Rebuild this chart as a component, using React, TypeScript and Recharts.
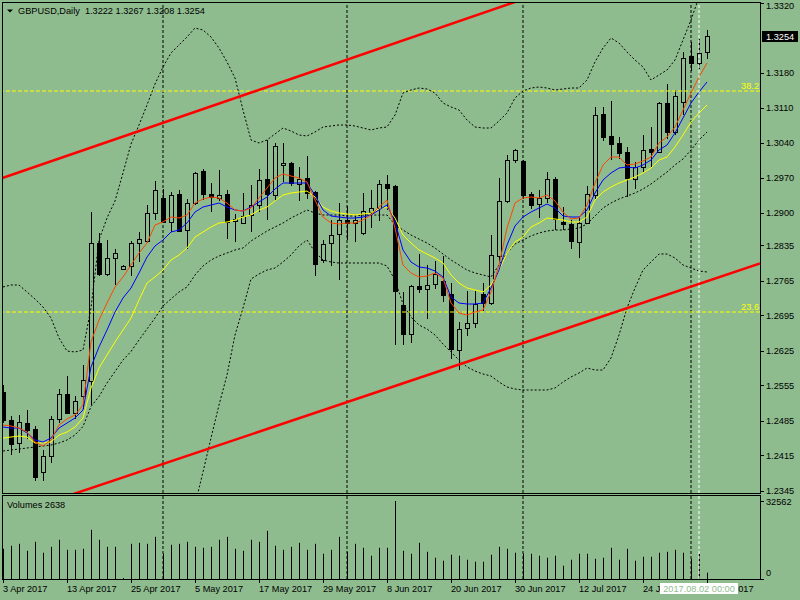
import React from 'react';
import { Bar, ComposedChart, Line, ReferenceLine, XAxis, YAxis } from 'recharts';

const BG = '#8FBC8F';
const FONT = '"Liberation Sans", Arial, sans-serif';
const FS = 9.2;

// GBPUSD daily, 3 Apr 2017 .. 3 Aug 2017 (one entry per bar)
const opens = [
  1.2543, 1.2486, 1.2439, 1.2481, 1.2469, 1.2383, 1.2413, 1.2489, 1.2537, 1.2501,
  1.2533, 1.2564, 1.2839, 1.2777, 1.2811, 1.2788, 1.2794, 1.2840, 1.2845, 1.2901,
  1.2931, 1.2883, 1.2938, 1.2866, 1.2919, 1.2984, 1.2938, 1.2931, 1.2938, 1.2884,
  1.2881, 1.2895, 1.2916, 1.2969, 1.2936, 1.2995, 1.2999, 1.2958, 1.2971, 1.2943,
  1.2806, 1.2839, 1.2858, 1.2887, 1.2879, 1.2859, 1.2903, 1.2911, 1.2958, 1.2954,
  1.2716, 1.2657, 1.2754, 1.2749, 1.2758, 1.2764, 1.2738, 1.2627, 1.2671, 1.2679,
  1.2738, 1.2721, 1.2814, 1.2924, 1.3006, 1.3004, 1.2938, 1.2917, 1.2931, 1.2968,
  1.2883, 1.2878, 1.2843, 1.2881, 1.2935, 1.3098, 1.3054, 1.3041, 1.3023, 1.2969,
  1.2993, 1.3028, 1.3023, 1.3119, 1.3063, 1.3123, 1.3214, 1.3201, 1.3222,
];
const highs = [
  1.2556, 1.2493, 1.2496, 1.2506, 1.2473, 1.2427, 1.2493, 1.2548, 1.2574, 1.2533,
  1.2596, 1.2903, 1.2859, 1.2846, 1.2829, 1.2796, 1.2845, 1.2863, 1.2916, 1.2964,
  1.2949, 1.2943, 1.2946, 1.2929, 1.2983, 1.2989, 1.2959, 1.2986, 1.2946, 1.2898,
  1.2941, 1.2956, 1.2988, 1.3046, 1.3039, 1.3041, 1.3003, 1.2993, 1.3014, 1.2944,
  1.2847, 1.2887, 1.2919, 1.2914, 1.2894, 1.2939, 1.2947, 1.2966, 1.2976, 1.2956,
  1.2743, 1.2756, 1.2817, 1.2796, 1.2805, 1.2814, 1.2759, 1.2683, 1.2745, 1.2745,
  1.2759, 1.2856, 1.2971, 1.3016, 1.3029, 1.3006, 1.2943, 1.2947, 1.2983, 1.2973,
  1.2913, 1.2887, 1.2893, 1.2954, 1.3113, 1.3113, 1.3124, 1.3053, 1.3033, 1.3003,
  1.3056, 1.3073, 1.3123, 1.3158, 1.3146, 1.3223, 1.3243, 1.3249, 1.3267,
];
const lows = [
  1.2480, 1.2416, 1.2421, 1.2449, 1.2364, 1.2364, 1.2401, 1.2479, 1.2499, 1.2489,
  1.2509, 1.2516, 1.2774, 1.2774, 1.2756, 1.2787, 1.2773, 1.2803, 1.2839, 1.2886,
  1.2879, 1.2863, 1.2863, 1.2829, 1.2916, 1.2926, 1.2903, 1.2925, 1.2849, 1.2843,
  1.2879, 1.2863, 1.2903, 1.2887, 1.2925, 1.2963, 1.2954, 1.2925, 1.2929, 1.2773,
  1.2799, 1.2794, 1.2767, 1.2846, 1.2843, 1.2856, 1.2871, 1.2885, 1.2907, 1.2636,
  1.2636, 1.2641, 1.2741, 1.2689, 1.2749, 1.2723, 1.2609, 1.2586, 1.2653, 1.2671,
  1.2705, 1.2715, 1.2803, 1.2919, 1.2999, 1.2929, 1.2909, 1.2891, 1.2919, 1.2866,
  1.2866, 1.2829, 1.2811, 1.2879, 1.2929, 1.3045, 1.3006, 1.3009, 1.2933, 1.2949,
  1.2983, 1.2993, 1.3019, 1.3049, 1.3056, 1.3096, 1.3185, 1.3189, 1.3208,
];
const closes = [
  1.2486, 1.2437, 1.2483, 1.2466, 1.2371, 1.2414, 1.2489, 1.2537, 1.2501, 1.2524,
  1.2566, 1.2839, 1.2777, 1.2811, 1.2821, 1.2794, 1.2841, 1.2848, 1.2901, 1.2947,
  1.2883, 1.2936, 1.2865, 1.2921, 1.2981, 1.2938, 1.2933, 1.2936, 1.2883, 1.2888,
  1.2894, 1.2916, 1.2967, 1.2937, 1.3034, 1.2999, 1.2959, 1.2969, 1.2939, 1.2797,
  1.2837, 1.2855, 1.2887, 1.2881, 1.2887, 1.2904, 1.2911, 1.2957, 1.2951, 1.2745,
  1.2658, 1.2754, 1.2749, 1.2756, 1.2779, 1.2735, 1.2629, 1.2669, 1.2681, 1.2717,
  1.2721, 1.2815, 1.2924, 1.3006, 1.3026, 1.2936, 1.2916, 1.2931, 1.2969, 1.2889,
  1.2878, 1.2845, 1.2881, 1.2937, 1.3096, 1.3053, 1.3037, 1.3019, 1.2971, 1.2993,
  1.3026, 1.3023, 1.3119, 1.3063, 1.3134, 1.3211, 1.3200, 1.3221, 1.3254,
];
const volumes = [
  12620, 13870, 14700, 11790, 15530, 10960, 13450, 16370, 12200, 12200,
  12620, 20530, 16370, 13450, 13450, 420, 14700, 15120, 14700, 17610,
  10540, 14290, 14700, 15530, 13450, 13040, 13450, 16370, 17610, 12620,
  11790, 16370, 15530, 20110, 13870, 12200, 13450, 15120, 12200, 14700,
  10540, 12200, 17610, 11370, 14700, 13040, 9710, 13040, 13040, 32562,
  11790, 10540, 15120, 11370, 8880, 7630, 10130, 9710, 8040, 7210,
  7210, 10130, 13450, 12620, 10960, 10540, 10540, 9710, 8880, 9710,
  5550, 8040, 10540, 10540, 8460, 8880, 13040, 8040, 12620, 7630,
  9290, 9290, 10960, 11370, 12200, 10960, 8460, 10500, 2638,
];

// moving averages (red / blue / yellow)
const maFast = [
  1.2476, 1.2474, 1.2470, 1.2462, 1.2442, 1.2434, 1.2446, 1.2476, 1.2488, 1.2496,
  1.2516, 1.2642, 1.2686, 1.2720, 1.2752, 1.2772, 1.2796, 1.2820, 1.2840, 1.2876,
  1.2882, 1.2892, 1.2890, 1.2896, 1.2920, 1.2928, 1.2932, 1.2930, 1.2920, 1.2906,
  1.2904, 1.2910, 1.2930, 1.2950, 1.2970, 1.2978, 1.2974, 1.2970, 1.2962, 1.2926,
  1.2892, 1.2880, 1.2878, 1.2880, 1.2880, 1.2886, 1.2896, 1.2912, 1.2926, 1.2870,
  1.2796, 1.2780, 1.2772, 1.2774, 1.2780, 1.2770, 1.2720, 1.2700, 1.2696, 1.2702,
  1.2706, 1.2742, 1.2796, 1.2870, 1.2920, 1.2930, 1.2932, 1.2930, 1.2936, 1.2924,
  1.2902, 1.2888, 1.2890, 1.2916, 1.2960, 1.2996, 1.3012, 1.3012, 1.2996, 1.2998,
  1.3004, 1.3012, 1.3040, 1.3052, 1.3072, 1.3106, 1.3140, 1.3172, 1.3200,
];
const maMid = [
  1.2472, 1.2470, 1.2470, 1.2460, 1.2446, 1.2442, 1.2450, 1.2470, 1.2480, 1.2490,
  1.2506, 1.2592, 1.2632, 1.2666, 1.2702, 1.2730, 1.2750, 1.2780, 1.2812, 1.2834,
  1.2846, 1.2862, 1.2866, 1.2880, 1.2902, 1.2912, 1.2916, 1.2920, 1.2912, 1.2906,
  1.2904, 1.2912, 1.2922, 1.2932, 1.2948, 1.2960, 1.2960, 1.2960, 1.2960, 1.2936,
  1.2906, 1.2894, 1.2892, 1.2890, 1.2890, 1.2892, 1.2896, 1.2906, 1.2916, 1.2882,
  1.2826, 1.2802, 1.2792, 1.2790, 1.2784, 1.2772, 1.2732, 1.2720, 1.2718, 1.2718,
  1.2720, 1.2750, 1.2786, 1.2836, 1.2874, 1.2892, 1.2902, 1.2910, 1.2918, 1.2910,
  1.2894, 1.2892, 1.2892, 1.2906, 1.2940, 1.2966, 1.2980, 1.2990, 1.2992, 1.2990,
  1.2996, 1.3006, 1.3026, 1.3036, 1.3060, 1.3090, 1.3120, 1.3142, 1.3162,
];
const maSlow = [
  1.2450, 1.2452, 1.2454, 1.2452, 1.2440, 1.2440, 1.2442, 1.2456, 1.2462, 1.2472,
  1.2490, 1.2550, 1.2590, 1.2616, 1.2642, 1.2666, 1.2690, 1.2726, 1.2760, 1.2772,
  1.2786, 1.2806, 1.2816, 1.2830, 1.2852, 1.2862, 1.2872, 1.2880, 1.2882, 1.2886,
  1.2892, 1.2896, 1.2906, 1.2912, 1.2924, 1.2936, 1.2940, 1.2942, 1.2944, 1.2932,
  1.2912, 1.2904, 1.2900, 1.2898, 1.2896, 1.2898, 1.2900, 1.2908, 1.2912, 1.2890,
  1.2856, 1.2840, 1.2826, 1.2818, 1.2810, 1.2800, 1.2776, 1.2760, 1.2750, 1.2746,
  1.2742, 1.2756, 1.2786, 1.2820, 1.2842, 1.2852, 1.2872, 1.2880, 1.2890, 1.2888,
  1.2886, 1.2882, 1.2882, 1.2892, 1.2926, 1.2942, 1.2952, 1.2960, 1.2966, 1.2972,
  1.2980, 1.2990, 1.3006, 1.3012, 1.3032, 1.3056, 1.3082, 1.3100, 1.3116,
];

// dotted envelope lines
const bandUpper = [
  1.2752, 1.2756, 1.2756, 1.2742, 1.2728, 1.2712, 1.2690, 1.2650, 1.2624, 1.2622,
  1.2626, 1.2710, 1.2846, 1.2890, 1.2924, 1.2980, 1.3038, 1.3076, 1.3116, 1.3158,
  1.3192, 1.3220, 1.3236, 1.3252, 1.3270, 1.3266, 1.3252, 1.3230, 1.3202, 1.3170,
  1.3106, 1.3046, 1.3040, 1.3046, 1.3058, 1.3070, 1.3064, 1.3056, 1.3054, 1.3062,
  1.3072, 1.3074, 1.3076, 1.3076, 1.3074, 1.3070, 1.3066, 1.3070, 1.3072, 1.3096,
  1.3140, 1.3146, 1.3150, 1.3148, 1.3140, 1.3120, 1.3112, 1.3106, 1.3086, 1.3072,
  1.3070, 1.3070, 1.3084, 1.3100, 1.3130, 1.3144, 1.3150, 1.3152, 1.3150, 1.3146,
  1.3148, 1.3150, 1.3150, 1.3166, 1.3202, 1.3230, 1.3250, 1.3240, 1.3222, 1.3206,
  1.3192, 1.3166, 1.3176, 1.3186, 1.3206, 1.3246, 1.3286, 1.3332, 1.3366,
];
const bandMiddle = [
  1.2424, 1.2426, 1.2428, 1.2430, 1.2432, 1.2434, 1.2436, 1.2440, 1.2446, 1.2456,
  1.2473, 1.2513, 1.2533, 1.2560, 1.2583, 1.2606, 1.2623, 1.2646, 1.2668, 1.2690,
  1.2714, 1.2728, 1.2742, 1.2752, 1.2776, 1.2794, 1.2806, 1.2814, 1.2820, 1.2826,
  1.2830, 1.2844, 1.2854, 1.2864, 1.2872, 1.2880, 1.2890, 1.2898, 1.2906, 1.2900,
  1.2896, 1.2896, 1.2896, 1.2894, 1.2894, 1.2896, 1.2896, 1.2896, 1.2896, 1.2876,
  1.2866, 1.2856, 1.2848, 1.2840, 1.2830, 1.2818, 1.2806, 1.2796, 1.2786, 1.2780,
  1.2776, 1.2772, 1.2796, 1.2820, 1.2838, 1.2846, 1.2854, 1.2860, 1.2864, 1.2866,
  1.2866, 1.2868, 1.2870, 1.2878, 1.2894, 1.2910, 1.2920, 1.2928, 1.2934, 1.2940,
  1.2948, 1.2958, 1.2970, 1.2982, 1.2996, 1.3008, 1.3026, 1.3046, 1.3062,
];
const bandLower = [
  null, null, null, null, null, null, null, null, null, null,
  null, null, null, null, null, null, null, null, null, null,
  null, null, 1.2180, 1.2248, 1.2316, 1.2382, 1.2450, 1.2516, 1.2576, 1.2656,
  1.2710, 1.2768, 1.2778, 1.2786, 1.2790, 1.2802, 1.2816, 1.2834, 1.2846, 1.2822,
  1.2806, 1.2802, 1.2800, 1.2800, 1.2800, 1.2800, 1.2800, 1.2800, 1.2794, 1.2766,
  1.2718, 1.2692, 1.2676, 1.2668, 1.2656, 1.2638, 1.2622, 1.2606, 1.2592, 1.2584,
  1.2578, 1.2574, 1.2562, 1.2552, 1.2548, 1.2546, 1.2546, 1.2546, 1.2546, 1.2550,
  1.2562, 1.2572, 1.2580, 1.2590, 1.2586, 1.2586, 1.2610, 1.2656, 1.2710, 1.2750,
  1.2786, 1.2802, 1.2818, 1.2818, 1.2810, 1.2796, 1.2790, 1.2784, 1.2782,
];

const priceTicks = [
  1.332, 1.318, 1.311, 1.304, 1.297, 1.29, 1.2835, 1.2765, 1.2695, 1.2625, 1.2555, 1.2485,
  1.2415, 1.2345,
];
const volumeTicks = [0, 32562];
const dateTicks = [0, 8, 16, 24, 32, 40, 48, 56, 64, 72, 80, 88];
const dateLabels = [
  '3 Apr 2017', '13 Apr 2017', '25 Apr 2017', '5 May 2017', '17 May 2017', '29 May 2017',
  '8 Jun 2017', '20 Jun 2017', '30 Jun 2017', '12 Jul 2017', '24 Jul 2017', '3 Aug 2017',
];
const monthStarts = [20, 43, 65, 86];
const markerBar = 87;
const markerLabel = '2017.08.02 00:00';
const fibLevels = [
  { name: '38.2', value: 1.3144 },
  { name: '23.6', value: 1.2702 },
];
const channelTop = [
  { x: -1, y: 1.2965 },
  { x: 70, y: 1.3355 },
];
const channelBottom = [
  { x: -0.125, y: 1.229 },
  { x: 94.625, y: 1.2799 },
];

const X_DOMAIN = [-0.125, 94.625];
const PRICE_DOMAIN = [1.234, 1.332];
const VOLUME_DOMAIN = [0, 34650];

const rows = opens.map((o, i) => ({
  i,
  o,
  h: highs[i],
  l: lows[i],
  c: closes[i],
  hl: [lows[i], highs[i]],
  vol: volumes[i],
  fast: maFast[i],
  mid: maMid[i],
  slow: maSlow[i],
  bu: bandUpper[i],
  bm: bandMiddle[i],
  bl: bandLower[i],
}));

const last = rows.length - 1;

function Candle(props: any) {
  const { x, y, width, height, payload } = props;
  if (x == null || y == null || !payload) return null;
  const top = Math.min(y, y + height);
  const bot = Math.max(y, y + height);
  const span = payload.h - payload.l;
  const k = span > 0 ? (bot - top) / span : 0;
  const py = (v: number) => top + (payload.h - v) * k;
  const cx = Math.round(x + width / 2);
  const bTop = Math.round(py(Math.max(payload.o, payload.c)));
  const bBot = Math.max(bTop + 1, Math.round(py(Math.min(payload.o, payload.c))));
  const bull = payload.c >= payload.o;
  return (
    <g>
      <line x1={cx + 0.5} x2={cx + 0.5} y1={Math.round(top)} y2={Math.round(bot)} stroke="#000" />
      <rect
        x={cx - 1.5}
        y={bTop + 0.5}
        width={4}
        height={bBot - bTop}
        fill={bull ? BG : '#000'}
        stroke="#000"
      />
    </g>
  );
}

function VolumeStick(props: any) {
  const { x, y, width, height } = props;
  if (x == null || !height) return null;
  return <rect x={Math.round(x + width / 2)} y={y} width={1} height={height} fill="#000" />;
}

function PriceTick(props: any) {
  const { y, payload } = props;
  // the topmost label sits against the frame, MT4 nudges it down a little
  const nudge = payload.value >= PRICE_DOMAIN[1] ? 2.5 : 0;
  return (
    <g>
      <line x1={760} x2={764} y1={Math.round(y) + 0.5} y2={Math.round(y) + 0.5} stroke="#000" />
      <text x={766} y={y + 3.3 + nudge} fontSize={FS} fontFamily={FONT} fill="#000">
        {payload.value.toFixed(4)}
      </text>
    </g>
  );
}

function VolumeTick(props: any) {
  const { y, payload } = props;
  const shift = payload.value === 0 ? -6.5 : 1;
  return (
    <g>
      <line x1={760} x2={764} y1={Math.round(y) + 0.5} y2={Math.round(y) + 0.5} stroke="#000" />
      <text x={766} y={y + 3.3 + shift} fontSize={FS} fontFamily={FONT} fill="#000">
        {payload.value}
      </text>
    </g>
  );
}

function DateTick(props: any) {
  const { x, payload } = props;
  const idx = dateTicks.indexOf(payload.value);
  const px = Math.round(x) + 0.5;
  return (
    <g>
      <line x1={px} x2={px} y1={579} y2={583} stroke="#000" />
      <text x={x} y={591.5} fontSize={FS} fontFamily={FONT} fill="#000">
        {dateLabels[idx]}
      </text>
    </g>
  );
}

function FibLabel(props: any) {
  const { viewBox, text } = props;
  if (!viewBox) return null;
  return (
    <text
      x={viewBox.x + viewBox.width - 1}
      y={viewBox.y - 2}
      textAnchor="end"
      fontSize={FS}
      fontFamily={FONT}
      fill="#FFFF00"
    >
      {text}
    </text>
  );
}

function PriceTag(props: any) {
  const { viewBox, text } = props;
  if (!viewBox) return null;
  const x0 = viewBox.x + viewBox.width + 2;
  const yc = Math.round(viewBox.y);
  return (
    <g>
      <rect x={x0} y={yc - 5} width={36} height={11} fill="#000" />
      <text x={x0 + 4} y={yc + 3.5} fontSize={FS} fontFamily={FONT} fill="#fff">
        {text}
      </text>
    </g>
  );
}

function MarkerTag(props: any) {
  const { viewBox, text } = props;
  if (!viewBox) return null;
  const xc = Math.round(viewBox.x);
  const yb = viewBox.y + viewBox.height;
  return (
    <g>
      <rect x={xc - 39} y={yb + 4} width={78} height={11} fill="#fff" />
      <text
        x={xc}
        y={yb + 12.5}
        textAnchor="middle"
        fontSize={FS}
        fontFamily={FONT}
        fill={BG}
      >
        {text}
      </text>
    </g>
  );
}

export default function App() {
  const header = `GBPUSD,Daily  ${opens[last].toFixed(4)} ${highs[last].toFixed(4)} ${lows[last].toFixed(
    4,
  )} ${closes[last].toFixed(4)}`;

  return (
    <div
      style={{
        position: 'absolute',
        left: 0,
        top: 0,
        width: 800,
        height: 600,
        background: BG,
        overflow: 'hidden',
      }}
    >
      {/* volume window + date axis */}
      <div style={{ position: 'absolute', left: 0, top: 0 }}>
        <ComposedChart
          width={800}
          height={600}
          data={rows}
          margin={{ top: 496, right: 0, bottom: 0, left: 2 }}
        >
          <XAxis
            dataKey="i"
            type="number"
            domain={X_DOMAIN}
            allowDataOverflow
            ticks={dateTicks}
            interval={0}
            height={21}
            axisLine={false}
            tickLine={false}
            tickSize={0}
            tickMargin={0}
            tick={(p: any) => <DateTick {...p} />}
          />
          <YAxis
            orientation="right"
            width={40}
            domain={VOLUME_DOMAIN}
            allowDataOverflow
            ticks={volumeTicks}
            interval={0}
            axisLine={false}
            tickLine={false}
            tickSize={0}
            tickMargin={0}
            tick={(p: any) => <VolumeTick {...p} />}
          />
          {monthStarts.map((m) => (
            <ReferenceLine key={m} x={m} stroke="#000" strokeDasharray="3 2" />
          ))}
          <Bar
            dataKey="vol"
            barSize={1}
            fill="#000"
            isAnimationActive={false}
            shape={(p: any) => <VolumeStick {...p} />}
          />
          <ReferenceLine x={markerBar} stroke="#fff" strokeDasharray="3 2" />
        </ComposedChart>
      </div>

      {/* price window */}
      <div style={{ position: 'absolute', left: 0, top: 0 }}>
        <ComposedChart
          width={800}
          height={496}
          data={rows}
          margin={{ top: 3, right: 0, bottom: 3, left: 2 }}
        >
          <XAxis dataKey="i" type="number" domain={X_DOMAIN} allowDataOverflow hide />
          <YAxis
            orientation="right"
            width={40}
            domain={PRICE_DOMAIN}
            allowDataOverflow
            ticks={priceTicks}
            interval={0}
            axisLine={false}
            tickLine={false}
            tickSize={0}
            tickMargin={0}
            tick={(p: any) => <PriceTick {...p} />}
          />
          {monthStarts.map((m) => (
            <ReferenceLine key={m} x={m} stroke="#000" strokeDasharray="3 2" />
          ))}
          {fibLevels.map((f) => (
            <ReferenceLine
              key={f.name}
              y={f.value}
              stroke="#FFFF00"
              strokeDasharray="4 2"
              label={<FibLabel text={f.name} />}
            />
          ))}
          <Bar
            dataKey="hl"
            barSize={5}
            isAnimationActive={false}
            shape={(p: any) => <Candle {...p} />}
          />
          <Line dataKey="bu" stroke="#000" strokeDasharray="2 2" dot={false} activeDot={false} isAnimationActive={false} />
          <Line dataKey="bm" stroke="#000" strokeDasharray="2 2" dot={false} activeDot={false} isAnimationActive={false} />
          <Line dataKey="bl" stroke="#000" strokeDasharray="2 2" dot={false} activeDot={false} isAnimationActive={false} />
          <Line dataKey="slow" stroke="#FFFF00" dot={false} activeDot={false} isAnimationActive={false} />
          <Line dataKey="mid" stroke="#0000FF" dot={false} activeDot={false} isAnimationActive={false} />
          <Line dataKey="fast" stroke="#FF4500" dot={false} activeDot={false} isAnimationActive={false} />
          <ReferenceLine x={markerBar} stroke="#fff" strokeDasharray="3 2" />
          <ReferenceLine segment={channelTop} stroke="#FF0000" strokeWidth={2.5} ifOverflow="hidden" />
          <ReferenceLine segment={channelBottom} stroke="#FF0000" strokeWidth={2.5} ifOverflow="hidden" />
          <ReferenceLine
            y={closes[last]}
            stroke="none"
            ifOverflow="visible"
            label={<PriceTag text={closes[last].toFixed(4)} />}
          />
        </ComposedChart>
      </div>

      {/* date tag of the vertical marker line, kept above the date axis */}
      <div style={{ position: 'absolute', left: 0, top: 0 }}>
        <ComposedChart
          width={800}
          height={600}
          data={rows}
          margin={{ top: 496, right: 40, bottom: 21, left: 2 }}
        >
          <XAxis dataKey="i" type="number" domain={X_DOMAIN} allowDataOverflow hide />
          <YAxis domain={VOLUME_DOMAIN} allowDataOverflow hide />
          <ReferenceLine
            x={markerBar}
            stroke="none"
            ifOverflow="visible"
            label={<MarkerTag text={markerLabel} />}
          />
        </ComposedChart>
      </div>

      {/* window frames and captions */}
      <svg
        width={800}
        height={600}
        style={{ position: 'absolute', left: 0, top: 0, pointerEvents: 'none' }}
      >
        <rect x={2.5} y={2.5} width={758} height={491} fill="none" stroke="#000" />
        <rect x={2.5} y={495.5} width={758} height={84} fill="none" stroke="#000" />
        <path d="M7 9.5 L13 9.5 L10 12.5 Z" fill="#000" />
        <text x={18} y={14} fontSize={FS} fontFamily={FONT} fill="#000" style={{ whiteSpace: 'pre' }}>
          {header}
        </text>
        <text x={7} y={508.3} fontSize={FS} fontFamily={FONT} fill="#000">
          {`Volumes ${volumes[last]}`}
        </text>
      </svg>
    </div>
  );
}
